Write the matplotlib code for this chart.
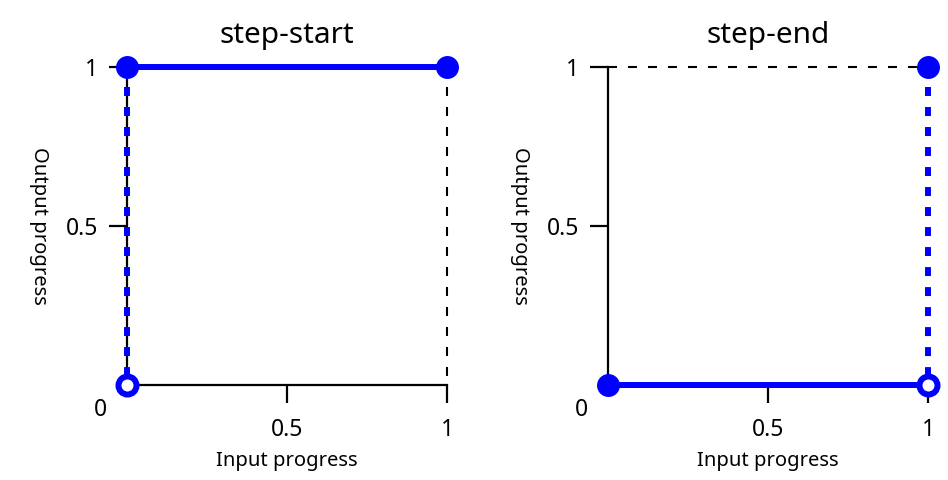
import matplotlib
matplotlib.use("Agg")
import matplotlib.pyplot as plt

plt.rcParams['font.family'] = ['Noto Sans', 'DejaVu Sans']

# step functions (input progress -> output progress)
titles = ["step-start", "step-end"]
seg_x = [[0, 1], [0, 1]]            # solid blue segment
seg_y = [[1, 1], [0, 0]]
jump_x = [[0, 0], [1, 1]]           # dashed blue jump, drawn top -> bottom
jump_y = [[1, 0], [1, 0]]
filled_x = [[0, 1], [0, 1]]
filled_y = [[1, 1], [0, 1]]
open_x = [[0], [1]]
open_y = [[0], [0]]
guide_x = [[1, 1], [0, 1]]          # black dashed guide
guide_y = [[1, 0], [1, 1]]
ticks = [0.5, 1]
tick_labels = ["0.5", "1"]

BLUE = "#0000ff"

fig = plt.figure(figsize=(9.48, 4.8), dpi=100)
lefts = [127 / 948, 608 / 948]
for i in range(2):
    ax = fig.add_axes([lefts[i], 95 / 480, 320 / 948, 318 / 480])
    ax.set_xlim(0, 1)
    ax.set_ylim(0, 1)
    for s in ["top", "right"]:
        ax.spines[s].set_visible(False)
    for s in ["left", "bottom"]:
        ax.spines[s].set_linewidth(1.6)
    ax.set_xticks(ticks)
    ax.set_xticklabels(tick_labels)
    ax.set_yticks(ticks)
    ax.set_yticklabels(tick_labels)
    ax.tick_params(length=13, width=1.6, labelsize=16.5)
    ax.tick_params(axis="x", pad=11)
    ax.tick_params(axis="y", pad=8)
    ax.text(-0.084, -0.078, "0", transform=ax.transAxes, ha="center", va="center", fontsize=16.5)

    ax.plot(guide_x[i], guide_y[i], color="black", lw=1.5, ls=(0, (4.3, 5.3)), clip_on=False)
    ax.plot(seg_x[i], seg_y[i], color=BLUE, lw=4.3, clip_on=False, zorder=3)
    ax.plot(jump_x[i], jump_y[i], color=BLUE, lw=4.3, ls=(0, (1.5, 1.85)), clip_on=False, zorder=3)
    ax.plot(filled_x[i], filled_y[i], "o", color=BLUE, ms=15.5, clip_on=False, zorder=4)
    ax.plot(open_x[i], open_y[i], "o", mfc="white", mec=BLUE, mew=4.3, ms=13, clip_on=False, zorder=4)

    ax.set_title(titles[i], fontsize=21.5, pad=17)
    ax.set_xlabel("Input progress", fontsize=14.5, labelpad=6)
    ax.set_ylabel("Output progress", fontsize=14.5, rotation=270, labelpad=26)

fig.savefig("out.png", dpi=100)
